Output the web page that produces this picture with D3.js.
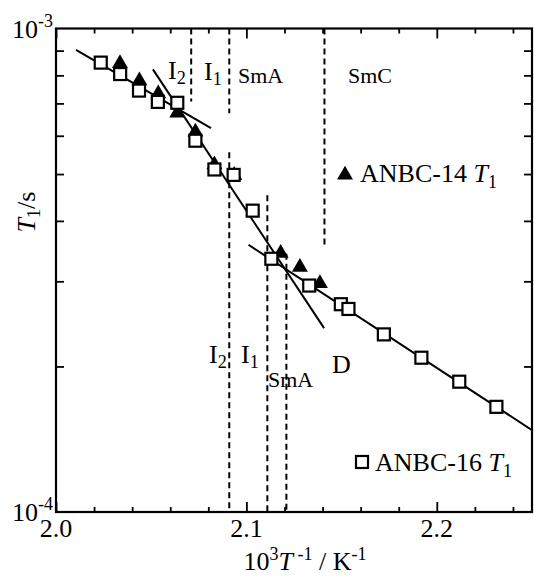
<!DOCTYPE html>
<html><head><meta charset="utf-8">
<script src="https://cdn.jsdelivr.net/npm/d3@7"></script>
<style>
body{margin:0;background:#fff}
svg{display:block}
text{font-family:"Liberation Serif","Times New Roman",serif;fill:#000}
</style>
</head><body>
<svg id="chart" width="534" height="576"></svg>
<script>
// ANBC-16 T1 (open squares)
const anbc16X = [2.0235,2.0337,2.0436,2.0535,2.0637,2.0732,2.0832,2.0933,2.1033,2.1131,2.1330,2.1496,2.1536,2.1722,2.1919,2.2118,2.2313];
const anbc16Y = [8.50e-4,8.05e-4,7.44e-4,7.05e-4,7.02e-4,5.86e-4,5.11e-4,4.98e-4,4.20e-4,3.34e-4,2.94e-4,2.69e-4,2.63e-4,2.33e-4,2.085e-4,1.86e-4,1.65e-4];
// ANBC-14 T1 (filled triangles)
const anbc14X = [2.0336,2.0438,2.0537,2.0637,2.0732,2.0832,2.0936,2.1180,2.1281,2.1386];
const anbc14Y = [8.47e-4,7.80e-4,7.33e-4,6.69e-4,6.11e-4,5.23e-4,4.97e-4,3.43e-4,3.21e-4,2.97e-4];
// fitted straight lines (endpoints)
const fitX1 = [2.0105,2.0509,2.1011];
const fitY1 = [9.03e-4,8.23e-4,3.57e-4];
const fitX2 = [2.0814,2.1408,2.2500];
const fitY2 = [6.22e-4,2.40e-4,1.477e-4];
// dashed phase boundaries
const boundX   = [2.071,2.091,2.141,2.091,2.111,2.121];
const boundTop = [1e-3,1e-3,1e-3,5.55e-4,4.52e-4,3.42e-4];
const boundBot = [7.06e-4,6.68e-4,3.55e-4,1e-4,1e-4,1e-4];
// ticks
const xMajor = [2.0,2.1,2.2];
const xMajorLabels = ["2.0","2.1","2.2"];
const xMinor = [2.02,2.04,2.06,2.08,2.12,2.14,2.16,2.18,2.22,2.24];
const yMinor = [2e-4,3e-4,4e-4,5e-4,6e-4,7e-4,8e-4,9e-4];
const yMajor = [1e-4,1e-3];

const svg = d3.select("#chart");
const L=56, R=532, T=28.5, B=512;
const x = d3.scaleLinear().domain([2.0,2.25]).range([L,R]);
const y = d3.scaleLog().domain([1e-4,1e-3]).range([B,T]);

svg.append("defs").append("clipPath").attr("id","clip")
  .append("rect").attr("x",L).attr("y",T).attr("width",R-L).attr("height",B-T);

function ax(gen, tr){ return svg.append("g").attr("transform",tr).call(gen); }
ax(d3.axisBottom(x).tickValues(xMajor).tickSize(-10).tickFormat(""), `translate(0,${B})`);
ax(d3.axisBottom(x).tickValues(xMinor).tickSize(-5).tickFormat(""), `translate(0,${B})`);
ax(d3.axisTop(x).tickValues(xMajor).tickSize(-10).tickFormat(""), `translate(0,${T})`);
ax(d3.axisTop(x).tickValues(xMinor).tickSize(-5).tickFormat(""), `translate(0,${T})`);
ax(d3.axisLeft(y).tickValues(yMinor).tickSize(-8).tickFormat(""), `translate(${L},0)`);
ax(d3.axisRight(y).tickValues(yMinor).tickSize(-8).tickFormat(""), `translate(${R},0)`);
svg.selectAll(".domain").remove();
svg.selectAll(".tick line").attr("stroke","#000").attr("stroke-width",1.8);
svg.append("rect").attr("x",L).attr("y",T).attr("width",R-L).attr("height",B-T)
  .attr("fill","none").attr("stroke","#000").attr("stroke-width",2.2);

// x tick labels
svg.selectAll(".xl").data(xMajor).enter().append("text")
  .attr("x",d=>x(d)).attr("y",B+25).attr("text-anchor","middle")
  .attr("font-size",26).text((d,i)=>xMajorLabels[i]);

// y tick labels 10^-3, 10^-4
yMajor.forEach(v=>{
  const t = svg.append("text").attr("x",L-3).attr("y",y(v)+9).attr("text-anchor","end").attr("font-size",26);
  t.append("tspan").text("10");
  t.append("tspan").attr("dy",-11).attr("font-size",18).text("-" + (v===1e-3?"3":"4"));
});

// axis titles
const xt2 = svg.append("text").attr("x",305).attr("y",570).attr("text-anchor","middle").attr("font-size",26);
xt2.append("tspan").text("10");
xt2.append("tspan").attr("dy",-10).attr("font-size",18).text("3");
xt2.append("tspan").attr("dy",10).attr("font-style","italic").text("T");
xt2.append("tspan").attr("dy",-10).attr("font-size",18).text(" -1");
xt2.append("tspan").attr("dy",10).text(" / K");
xt2.append("tspan").attr("dy",-10).attr("font-size",18).text("-1");

const yt = svg.append("text").attr("transform","translate(35,212) rotate(-90)")
  .attr("text-anchor","middle").attr("font-size",26);
yt.append("tspan").attr("font-style","italic").text("T");
yt.append("tspan").attr("dy",5).attr("font-size",18).text("1");
yt.append("tspan").attr("dy",-5).text("/s");

const plot = svg.append("g").attr("clip-path","url(#clip)");

// dashed boundaries
plot.selectAll(".bd").data(boundX).enter().append("line")
  .attr("x1",d=>x(d)).attr("x2",d=>x(d))
  .attr("y1",(d,i)=>y(boundTop[i])).attr("y2",(d,i)=>y(boundBot[i]))
  .attr("stroke","#000").attr("stroke-width",2).attr("stroke-dasharray","6,4");

// fit lines
plot.selectAll(".fl").data(fitX1).enter().append("line")
  .attr("x1",d=>x(d)).attr("y1",(d,i)=>y(fitY1[i]))
  .attr("x2",(d,i)=>x(fitX2[i])).attr("y2",(d,i)=>y(fitY2[i]))
  .attr("stroke","#000").attr("stroke-width",2);

// triangles
const tri = d3.symbol().type(d3.symbolTriangle).size(110);
plot.selectAll(".tr").data(anbc14X).enter().append("path")
  .attr("d",tri).attr("transform",(d,i)=>`translate(${x(d)},${y(anbc14Y[i])})`)
  .attr("fill","#000");

// squares
plot.selectAll(".sq").data(anbc16X).enter().append("rect")
  .attr("x",d=>x(d)-6).attr("y",(d,i)=>y(anbc16Y[i])-6)
  .attr("width",12).attr("height",12)
  .attr("fill","#fff").attr("stroke","#000").attr("stroke-width",2.2);

// phase labels
function lab(txt, sub, px, py, fs){
  const t = svg.append("text").attr("x",px).attr("y",py).attr("font-size",fs);
  t.append("tspan").text(txt);
  if(sub){ t.append("tspan").attr("dy",5).attr("font-size",fs*0.7).text(sub); }
}
lab("I","2",168,79,26);
lab("I","1",204,80,26);
lab("SmA",null,238,83,22);
lab("SmC",null,348,83,22);
lab("I","2",209,363,26);
lab("I","1",241,363,26);
lab("SmA",null,268,387,22);
lab("D",null,332,373,26);

// legends
svg.append("path").attr("d",tri).attr("transform","translate(345,175)").attr("fill","#000");
const l1 = svg.append("text").attr("x",360).attr("y",182).attr("font-size",26);
l1.append("tspan").text("ANBC-14 ");
l1.append("tspan").attr("font-style","italic").text("T");
l1.append("tspan").attr("dy",6).attr("font-size",18).text("1");

svg.append("rect").attr("x",356).attr("y",456).attr("width",12).attr("height",12)
  .attr("fill","#fff").attr("stroke","#000").attr("stroke-width",2.2);
const l2 = svg.append("text").attr("x",375).attr("y",471).attr("font-size",26);
l2.append("tspan").text("ANBC-16 ");
l2.append("tspan").attr("font-style","italic").text("T");
l2.append("tspan").attr("dy",6).attr("font-size",18).text("1");
</script>
</body></html>
